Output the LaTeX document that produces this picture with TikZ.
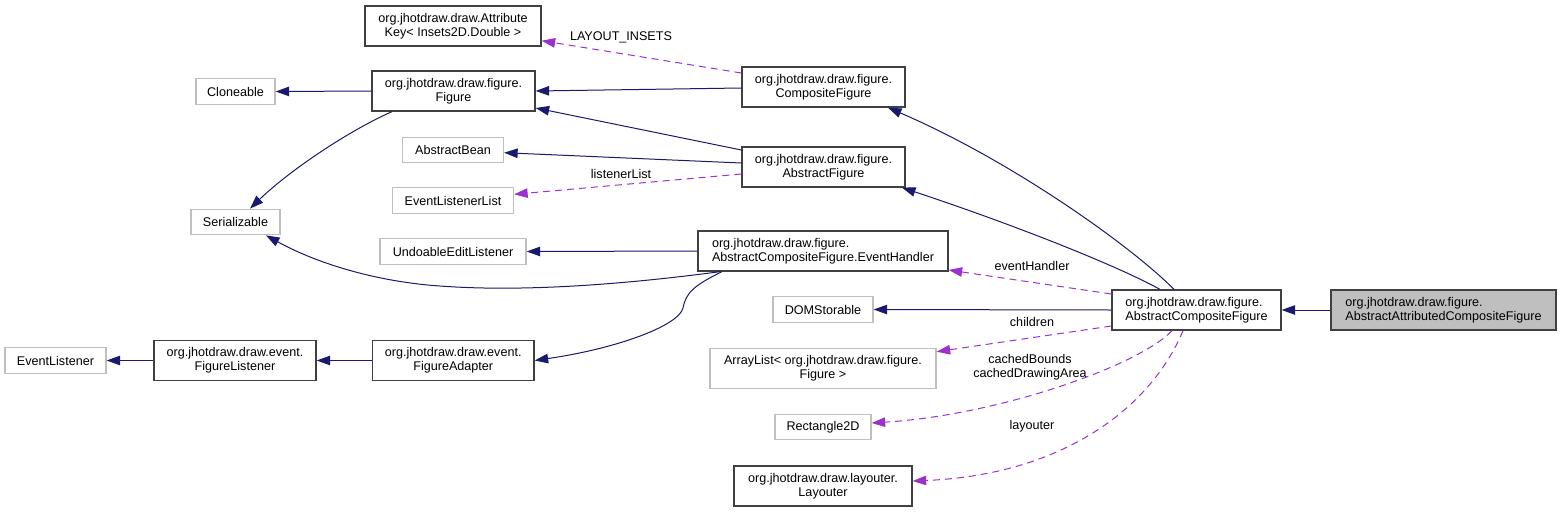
\documentclass[tikz,border=0pt]{standalone}
\usepackage{fontspec}
\setmainfont{Liberation Sans}
\usetikzlibrary{arrows.meta}
\definecolor{navy}{HTML}{191970}
\definecolor{orchid}{HTML}{9A32CD}
\definecolor{boxblack}{HTML}{404040}
\definecolor{boxgray}{HTML}{BFBFBF}
\newcommand{\dfont}{\fontsize{12.6}{14.3}\selectfont}
\begin{document}
\begin{tikzpicture}[x=1pt,y=-1pt,
  base/.style={inner sep=0pt, font=\dfont, align=center},
  cls/.style={base, draw=boxblack, line width=1.3pt, fill=white, minimum height=40pt},
  ext/.style={base, draw=boxgray, line width=1.3pt, fill=white, minimum height=25.5pt},
  cur/.style={base, draw=boxblack, line width=1.3pt, fill=boxgray, minimum height=40pt},
  lbl/.style={base, inner sep=0pt},
  inh/.style={draw=navy, line width=1pt, -{Triangle[length=13.5pt,width=9.5pt]}},
  use/.style={draw=orchid, line width=1pt, dash pattern=on 7pt off 5pt, -{Triangle[length=13.5pt,width=9.5pt]}}]
\useasboundingbox (0,0) rectangle (1561,512);

% nodes
\node[cls, minimum width=176pt] (attr) at (453,26) {org.jhotdraw.draw.Attribute\\Key< Insets2D.Double >};
\node[ext, minimum width=79pt] (cloneable) at (235.5,91.5) {Cloneable};
\node[cls, minimum width=163pt] (figure) at (453.5,91) {org.jhotdraw.draw.figure.\\Figure};
\node[cls, minimum width=163pt] (cf) at (823.5,87) {org.jhotdraw.draw.figure.\\CompositeFigure};
\node[ext, minimum width=101pt] (abean) at (453,150) {AbstractBean};
\node[cls, minimum width=163pt] (af) at (823.5,167) {org.jhotdraw.draw.figure.\\AbstractFigure};
\node[ext, minimum width=121pt] (ell) at (453,200.5) {EventListenerList};
\node[ext, minimum width=89pt] (ser) at (235.5,222) {Serializable};
\node[ext, minimum width=146pt] (uel) at (453,251.5) {UndoableEditListener};
\node[cls, minimum width=250pt, align=left] (eh) at (823,251) {org.jhotdraw.draw.figure.\\AbstractCompositeFigure.EventHandler};
\node[ext, minimum width=100pt] (dom) at (823,309.5) {DOMStorable};
\node[cls, minimum width=169pt, align=left] (acf) at (1196.5,310) {org.jhotdraw.draw.figure.\\AbstractCompositeFigure};
\node[cur, minimum width=225pt, align=left] (aacf) at (1443.5,310) {org.jhotdraw.draw.figure.\\AbstractAttributedCompositeFigure};
\node[ext, minimum width=101pt] (el) at (55.5,360.5) {EventListener};
\node[cls, minimum width=162pt] (fl) at (235,360.5) {org.jhotdraw.draw.event.\\FigureListener};
\node[cls, minimum width=161.5pt] (fa) at (453.25,360.5) {org.jhotdraw.draw.event.\\FigureAdapter};
\node[ext, minimum width=226pt, minimum height=40pt] (al) at (823,368.5) {ArrayList< org.jhotdraw.draw.figure.\\Figure >};
\node[ext, minimum width=96pt] (r2d) at (823,427) {Rectangle2D};
\node[cls, minimum width=178pt] (lay) at (823,486) {org.jhotdraw.draw.layouter.\\Layouter};

% edge labels
\node[lbl] (lInsets) at (621,37) {LAYOUT\_INSETS};
\node[lbl] (lListener) at (621,173.5) {listenerList};
\node[lbl] (lEvent) at (1032,266) {eventHandler};
\node[lbl] (lChildren) at (1032,321.5) {children};
\node[lbl] (lCached) at (1030,367) {cachedBounds\\cachedDrawingArea};
\node[lbl] (lLayouter) at (1032,426) {layouter};

% inheritance
\draw[inh] (figure.west) -- (cloneable.east);
\draw[inh] ([yshift=-1pt]cf.west) -- (figure.east);
\draw[inh] ([yshift=17pt]af.west) -- ([yshift=-17pt]figure.east);
\draw[inh] ([yshift=4pt]af.west) -- ([yshift=-2.7pt]abean.east);
\draw[inh] ([xshift=-61.5pt]figure.south) .. controls (350,130) and (290,170) .. ([xshift=14.5pt]ser.north);
\draw[inh] ([xshift=-103pt]eh.south) .. controls (620,285) and (520,292) .. (440,286) .. controls (380,282) and (320,265) .. ([xshift=30.5pt]ser.south);
\draw[inh] (eh.west) -- (uel.east);
\draw[inh] ([xshift=-101pt]eh.south) .. controls (695,285) and (686,292) .. (683,308) .. controls (679,325) and (620,348) .. (fa.east);
\draw[inh] (fa.west) -- (fl.east);
\draw[inh] (fl.west) -- (el.east);
\draw[inh] ([xshift=-22.5pt]acf.north) .. controls (1130,245) and (1010,160) .. ([xshift=64.5pt]cf.south);
\draw[inh] ([xshift=-36.5pt]acf.north) .. controls (1110,262) and (1000,220) .. ([xshift=78.5pt]af.south);
\draw[inh] (acf.west) -- (dom.east);
\draw[inh] (aacf.west) -- (acf.east);

% usage
\draw[use] ([yshift=14pt]cf.west) -- ([yshift=-14.7pt]attr.east);
\draw[use] ([yshift=-7pt]af.west) -- ([yshift=6.2pt]ell.east);
\draw[use] ([yshift=16pt]acf.west) -- ([yshift=-19pt]eh.east);
\draw[use] ([yshift=-16pt]acf.west) -- ([yshift=16.8pt]al.east);
\draw[use] ([xshift=-24.5pt]acf.south) .. controls (1140,365) and (1000,415) .. ([yshift=4pt]r2d.east);
\draw[use] ([xshift=-13.5pt]acf.south) .. controls (1150,410) and (1060,475) .. ([yshift=5pt]lay.east);
\end{tikzpicture}
\end{document}
